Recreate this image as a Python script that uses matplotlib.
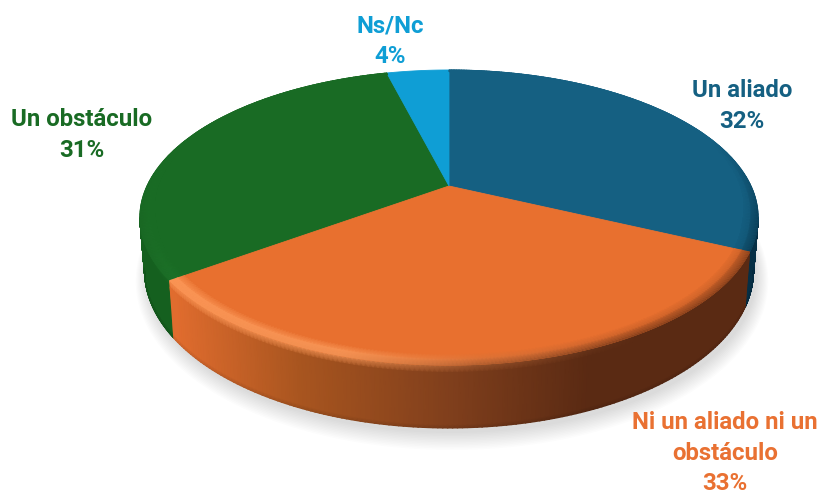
"""Pie 3D: Un aliado / Ni un aliado ni un obstáculo / Un obstáculo / Ns/Nc"""

import numpy as np
import matplotlib
matplotlib.use("Agg")
import matplotlib.pyplot as plt

labels = ["Un aliado", "Ni un aliado ni un\nobstáculo", "Un obstáculo", "Ns/Nc"]
values = [32, 33, 31, 4]
top_colors = ["#156082", "#E8702F", "#196B24", "#0F9ED5"]
text_colors = ["#156082", "#E97132", "#196B24", "#0F9ED5"]

# pixel position of each label block
label_pos = [(742, 106), (725, 453), (82, 135), (390, 41)]

# perspective of the pie
CX, CY = 449, 186
A, B, K = 302, 140.8, 0.2136


def project(theta, r=1.0):
    """theta in degrees, clockwise from 12 o'clock"""
    t = np.radians(theta)
    x = r * np.sin(t)
    y = r * np.cos(t)
    w = 1 + K * y
    return CX + A * x / w, CY - B * y / w


def project_low(theta):
    """lower edge of the side wall"""
    t = np.radians(theta)
    y = np.cos(t)
    sx, sy = project(theta)
    return CX + (sx - CX) * 0.985, sy + 50 - 13 * y


def hex_rgb(c):
    return np.array(matplotlib.colors.to_rgb(c))


def wall_color(i, sx):
    # side colour depends on the horizontal position
    if i == 1:
        stops_x = [175, 300, 450, 590, 750]
        stops_c = np.array([hex_rgb(c) for c in
                            ["#E06C2E", "#A8551F", "#803F1C", "#5A2A13", "#5A2A13"]])
        return np.stack([np.interp(sx, stops_x, stops_c[:, k]) for k in range(3)], axis=-1)
    base = {0: "#062F45", 2: "#15601F", 3: "#0A6E96"}[i]
    return np.broadcast_to(hex_rgb(base), sx.shape + (3,))


def highlight(i, sx):
    # lighter band on the rim, left part of the pie
    if i == 1:
        return np.interp(sx, [175, 340, 480, 640], [0.8, 0.8, 0.25, 0.0])
    if i == 2:
        return np.interp(sx, [139, 177], [0.12, 0.3])
    return np.zeros(sx.shape)


hl_target = {0: "#156082", 1: "#FF9C5C", 2: "#2A8A38", 3: "#0F9ED5"}

starts = np.cumsum([0] + values[:-1]) * 3.6
ends = np.cumsum(values) * 3.6

fig = plt.figure(figsize=(8.19, 4.95), dpi=100)
ax = fig.add_axes([0, 0, 1, 1])
ax.set_xlim(0, 819)
ax.set_ylim(495, 0)
ax.axis("off")

# soft shadow under the pie
ring = np.linspace(0, 360, 361)
lx, ly = project_low(ring)
for grow in np.linspace(0, 12, 12):
    ax.fill(CX + (lx - CX) * (1 + grow / 310) + 3, 217 + (ly - 217 + 30) * (1 + grow / 170) - 25,
            color="black", alpha=0.01, lw=0, zorder=1)

# side walls, only the arc that faces the viewer
tangent = np.degrees(np.arccos(-K))
for i in [0, 2, 1]:
    a0 = max(starts[i], tangent)
    a1 = min(ends[i], 360 - tangent)
    th = np.linspace(a0, a1, 160)
    tx, ty = project(th)
    bx, by = project_low(th)
    rows = [0.0, 0.12, 0.95, 1.0]
    X = np.array([tx + (bx - tx) * f for f in rows])
    Y = np.array([ty + (by - ty) * f for f in rows])
    wc = wall_color(i, tx)
    hl = highlight(i, tx)[..., None]
    C = np.array([wc + (hex_rgb(hl_target[i]) - wc) * hl, wc, wc, wc * 0.88])
    ax.pcolormesh(X, Y, np.clip(C, 0, 1), shading="gouraud", zorder=2)

# top faces with a bevelled rim
for i in [0, 2, 1, 3]:
    th = np.linspace(starts[i], ends[i], 200)
    tx, ty = project(th)
    ax.fill(np.r_[CX, tx], np.r_[CY, ty], color=top_colors[i], lw=0.6, zorder=3)
    if i == 3:
        continue

    # bevel only shows on the part that faces the viewer
    cosv = np.cos(np.radians(th))
    front = np.clip((0.35 - cosv) / 0.6, 0, 1)[..., None]
    top = hex_rgb(top_colors[i])
    wc = wall_color(i, tx)
    hl = highlight(i, tx)[..., None] * front
    target = hex_rgb(hl_target[i])
    col_top = np.broadcast_to(top, tx.shape + (3,))
    edge = col_top + (wc - col_top) * front * 0.7

    inner = 0.982 - 0.03 * front[..., 0]
    mid = (inner + 1) / 2
    X = np.array([project(th, inner)[0], project(th, mid)[0], project(th, 1.0)[0]])
    Y = np.array([project(th, inner)[1], project(th, mid)[1], project(th, 1.0)[1]])
    col_mid = col_top + (target - col_top) * hl + (edge - col_top) * 0.3 * (1 - hl)
    col_edge = edge + (target - edge) * hl
    C = np.array([col_top, col_mid, col_edge])
    ax.pcolormesh(X, Y, np.clip(C, 0, 1), shading="gouraud", zorder=4)

# labels
for name, val, col, (px, py) in zip(labels, values, text_colors, label_pos):
    ax.text(px, py, f"{name}\n{val}%", color=col, ha="center", va="center",
            fontsize=17.3, fontweight="bold", family="Roboto",
            linespacing=1.42, zorder=5)

fig.savefig("out.png", dpi=100)
